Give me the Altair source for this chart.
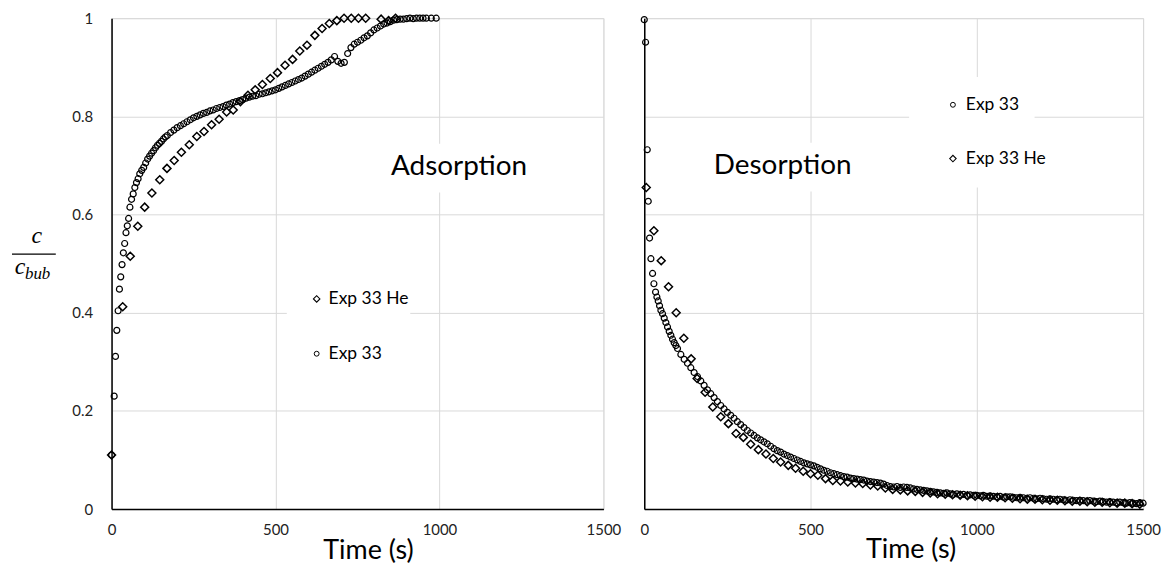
import altair as alt
import pandas as pd

# ---------------- data ----------------
ads_exp33_t = [0, 8, 12, 16, 20, 24, 28, 32, 36, 40, 44, 48, 52, 56, 61, 66, 71, 76, 81, 86,
               92, 98, 104, 110, 116, 122, 128, 134, 140, 146, 152, 158, 164, 170, 180, 190, 200,
               210, 220, 230, 240, 250, 260, 270, 280, 290, 300, 310, 320, 330, 340, 350, 360,
               370, 380, 390, 400, 410, 420, 430, 440, 450, 460, 470, 480, 490, 500, 510, 520,
               530, 540, 550, 560, 570, 580, 590, 600, 610, 620, 630, 640, 650, 660, 670, 680,
               690, 700, 710, 720, 730, 740, 750, 760, 770, 780, 790, 800, 810, 820, 830, 840,
               850, 860, 870, 880, 890, 900, 910, 920, 930, 940, 950, 960, 975, 990]
ads_exp33_c = [0.110, 0.230, 0.311, 0.364, 0.404, 0.448, 0.473, 0.498, 0.522, 0.541, 0.563, 0.577,
               0.592, 0.615, 0.631, 0.642, 0.655, 0.665, 0.673, 0.683, 0.690, 0.696, 0.705, 0.713,
               0.719, 0.725, 0.730, 0.736, 0.741, 0.745, 0.749, 0.754, 0.758, 0.761, 0.767, 0.772,
               0.777, 0.781, 0.785, 0.789, 0.793, 0.797, 0.800, 0.803, 0.806, 0.808, 0.811, 0.813,
               0.816, 0.818, 0.820, 0.823, 0.825, 0.828, 0.830, 0.832, 0.834, 0.837, 0.839, 0.841,
               0.842, 0.845, 0.846, 0.848, 0.850, 0.852, 0.854, 0.857, 0.860, 0.863, 0.866, 0.869,
               0.872, 0.875, 0.878, 0.882, 0.886, 0.890, 0.894, 0.898, 0.902, 0.906, 0.910, 0.915,
               0.922, 0.912, 0.908, 0.910, 0.928, 0.940, 0.947, 0.951, 0.955, 0.960, 0.964, 0.970,
               0.976, 0.980, 0.984, 0.988, 0.990, 0.993, 0.996, 0.997, 0.998, 0.998, 0.999, 1.000,
               0.999, 1.000, 1.000, 1.000, 1.000, 1.000, 1.000]

ads_he_t = [0, 34, 57, 80, 101, 123, 147, 169, 191, 213, 237, 260, 282, 305, 328, 351, 371, 393,
            416, 438, 460, 484, 506, 529, 552, 574, 596, 620, 642, 664, 687, 709, 731, 753, 775,
            822, 845, 866]
ads_he_c = [0.110, 0.412, 0.515, 0.576, 0.615, 0.644, 0.671, 0.694, 0.710, 0.727, 0.742, 0.759,
            0.769, 0.783, 0.794, 0.809, 0.813, 0.830, 0.843, 0.854, 0.865, 0.877, 0.889, 0.904,
            0.916, 0.933, 0.945, 0.965, 0.979, 0.989, 0.995, 1.000, 1.000, 1.000, 1.000, 0.998,
            0.995, 1.000]

des_exp33_t = [0, 4, 9, 12, 16, 20, 25, 29, 34, 38, 42, 46, 50, 55, 60, 65, 70, 75, 80, 85, 90,
               95, 100, 110, 120, 130, 140, 150, 160, 170, 180, 190, 200, 210, 220, 230, 240, 250,
               260, 270, 280, 290, 300, 310, 320, 330, 340, 350, 360, 370, 380, 390, 400, 410,
               420, 430, 440, 450, 460, 470, 480, 490, 500, 510, 520, 530, 540, 550, 560, 570,
               580, 590, 600, 610, 620, 630, 640, 650, 660, 670, 680, 690, 700, 710, 720, 730,
               740, 750, 760, 770, 780, 790, 800, 810, 820, 830, 840, 850, 860, 870, 880, 890,
               900, 910, 920, 930, 940, 950, 960, 970, 980, 990, 1000, 1010, 1020, 1030, 1040,
               1050, 1060, 1070, 1080, 1090, 1100, 1110, 1120, 1130, 1140, 1150, 1160, 1170,
               1180, 1190, 1200, 1210, 1220, 1230, 1240, 1250, 1260, 1270, 1280, 1290, 1300,
               1310, 1320, 1330, 1340, 1350, 1360, 1370, 1380, 1390, 1400, 1410, 1420, 1430,
               1440, 1450, 1460, 1470, 1480, 1490, 1500]
des_exp33_c = [0.997, 0.951, 0.732, 0.627, 0.552, 0.510, 0.480, 0.459, 0.442, 0.432, 0.424, 0.414,
               0.405, 0.398, 0.389, 0.380, 0.371, 0.362, 0.354, 0.346, 0.339, 0.333, 0.327, 0.315,
               0.305, 0.297, 0.288, 0.278, 0.270, 0.261, 0.252, 0.243, 0.235, 0.227, 0.219, 0.211,
               0.204, 0.197, 0.191, 0.185, 0.178, 0.172, 0.166, 0.160, 0.155, 0.150, 0.145, 0.141,
               0.137, 0.133, 0.128, 0.123, 0.119, 0.116, 0.112, 0.109, 0.106, 0.103, 0.100, 0.097,
               0.094, 0.092, 0.090, 0.088, 0.085, 0.082, 0.079, 0.077, 0.074, 0.072, 0.070, 0.068,
               0.066, 0.065, 0.063, 0.062, 0.061, 0.060, 0.059, 0.057, 0.056, 0.055, 0.054, 0.053,
               0.051, 0.048, 0.046, 0.045, 0.046, 0.044, 0.045, 0.044, 0.043, 0.041, 0.040, 0.039,
               0.038, 0.037, 0.036, 0.035, 0.034, 0.033, 0.032, 0.033, 0.031, 0.030, 0.031, 0.029,
               0.030, 0.028, 0.029, 0.028, 0.028, 0.027, 0.028, 0.026, 0.027, 0.026, 0.025, 0.026,
               0.024, 0.025, 0.025, 0.024, 0.023, 0.024, 0.023, 0.022, 0.023, 0.022, 0.021, 0.022,
               0.021, 0.020, 0.021, 0.020, 0.019, 0.020, 0.019, 0.018, 0.019, 0.018, 0.017, 0.018,
               0.017, 0.016, 0.017, 0.016, 0.015, 0.016, 0.015, 0.014, 0.015, 0.014, 0.013, 0.014,
               0.013, 0.012, 0.013, 0.012, 0.011, 0.013, 0.012]

des_he_t = [6, 29, 51, 73, 96, 119, 141, 159, 183, 206, 230, 253, 276, 298, 320, 343, 366, 388,
            410, 433, 455, 478, 500, 522, 545, 567, 590, 612, 635, 657, 680, 702, 725, 747, 770,
            792, 815, 837, 860, 882, 905, 927, 950, 972, 995, 1017, 1040, 1062, 1085, 1107,
            1130, 1152, 1175, 1197, 1220, 1242, 1265, 1287, 1310, 1332, 1355, 1377, 1400, 1422,
            1445, 1467, 1490]
des_he_c = [0.655, 0.567, 0.506, 0.453, 0.400, 0.348, 0.306, 0.266, 0.238, 0.208, 0.188, 0.174,
            0.154, 0.146, 0.132, 0.121, 0.112, 0.103, 0.096, 0.089, 0.083, 0.077, 0.072, 0.069,
            0.062, 0.058, 0.057, 0.055, 0.053, 0.052, 0.049, 0.047, 0.043, 0.040, 0.039, 0.037,
            0.036, 0.034, 0.033, 0.031, 0.030, 0.029, 0.028, 0.027, 0.026, 0.025, 0.024, 0.024,
            0.023, 0.022, 0.021, 0.020, 0.020, 0.019, 0.018, 0.018, 0.017, 0.016, 0.016, 0.015,
            0.014, 0.014, 0.013, 0.012, 0.012, 0.011, 0.010]

x_ticks = [0, 500, 1000, 1500]
y_ticks = [0, 0.2, 0.4, 0.6, 0.8, 1.0]

FONT = "Lato"
GRID = "#d9d9d9"
LW, RW, H = 494, 501, 493

ads_c_df = pd.DataFrame({"t": ads_exp33_t, "c": ads_exp33_c})
ads_h_df = pd.DataFrame({"t": ads_he_t, "c": ads_he_c})
des_c_df = pd.DataFrame({"t": des_exp33_t, "c": des_exp33_c})
des_h_df = pd.DataFrame({"t": des_he_t, "c": des_he_c})

one = alt.Data(values=[{"k": 0}])


def xenc():
    return alt.X("t:Q", scale=alt.Scale(domain=[0, 1500], nice=False),
                 axis=alt.Axis(values=x_ticks, format="d", title=None, grid=True,
                               gridColor=GRID, gridWidth=1, ticks=False,
                               domainColor="black", domainWidth=1.5,
                               labelFont=FONT, labelFontSize=15, labelColor="#222",
                               labelPadding=14, labelFlush=False))


def yenc(labels):
    return alt.Y("c:Q", scale=alt.Scale(domain=[0, 1], nice=False),
                 axis=alt.Axis(values=y_ticks, format="~g", title=None, grid=True,
                               gridColor=GRID, gridWidth=1, ticks=False,
                               domainColor="black", domainWidth=1.5,
                               labels=labels, labelFont=FONT, labelFontSize=15,
                               labelColor="#222", labelPadding=19, labelFlush=False))


def circles(df, labels):
    return alt.Chart(df).mark_point(shape="circle", size=36, filled=False, color="black",
                                    strokeWidth=1.2, opacity=1).encode(x=xenc(), y=yenc(labels))


def diamonds(df, labels):
    return alt.Chart(df).mark_point(shape="diamond", size=64, filled=False, color="black",
                                    strokeWidth=1.5, opacity=1).encode(x=xenc(), y=yenc(labels))


def box(x1, x2, y1, y2):
    return alt.Chart(one).mark_rect(color="white").encode(
        x=alt.value(x1), x2=alt.value(x2), y=alt.value(y1), y2=alt.value(y2))


def txt(s, x, y, size, align="left", **kw):
    return alt.Chart(one).mark_text(text=s, font=FONT, fontSize=size, align=align,
                                    baseline="middle", color="black", **kw).encode(
        x=alt.value(x), y=alt.value(y))


def sym(shape, x, y, size, sw):
    return alt.Chart(one).mark_point(shape=shape, size=size, filled=False, color="black",
                                     strokeWidth=sw, opacity=1).encode(
        x=alt.value(x), y=alt.value(y))


# ---------------- left panel: adsorption ----------------
left = alt.layer(
    box(273, 423, 126, 175),
    txt("Adsorption", 349, 150, 28, align="center"),
    box(176, 300, 254, 366),
    sym("diamond", 206, 282, 42, 1.1),
    txt("Exp 33 He", 218, 282, 17.5),
    sym("circle", 206, 337, 24, 1.0),
    txt("Exp 33", 218, 337, 17.5),
    # fraction y-label
    alt.Chart(one).mark_text(text="c", font="Liberation Serif", fontStyle="italic",
                             fontSize=24, align="center", baseline="middle").encode(
        x=alt.value(-75), y=alt.value(219)),
    alt.Chart(one).mark_rule(color="black", strokeWidth=1.2).encode(
        x=alt.value(-100), x2=alt.value(-56), y=alt.value(237)),
    alt.Chart(one).mark_text(text="c", font="Liberation Serif", fontStyle="italic",
                             fontSize=24, align="center", baseline="middle").encode(
        x=alt.value(-92), y=alt.value(250)),
    alt.Chart(one).mark_text(text="bub", font="Liberation Serif", fontStyle="italic",
                             fontSize=17, align="left", baseline="middle").encode(
        x=alt.value(-87), y=alt.value(257)),
    txt("Time (s)", 258, 535, 27, align="center"),
    diamonds(ads_h_df, True),
    circles(ads_c_df, True),
).properties(width=LW, height=H)

# ---------------- right panel: desorption ----------------
right = alt.layer(
    box(61, 218, 125, 174),
    txt("Desorption", 139, 149, 28, align="center"),
    box(266, 392, 59, 170),
    sym("circle", 310, 87, 24, 1.0),
    txt("Exp 33", 323, 87, 17.5),
    sym("diamond", 310, 141, 42, 1.1),
    txt("Exp 33 He", 323, 141, 17.5),
    txt("Time (s)", 268, 534, 27, align="center"),
    diamonds(des_h_df, False),
    circles(des_c_df, False),
).properties(width=RW, height=H)

chart = alt.hconcat(left, right, spacing=17).properties(
    padding={"left": 2, "top": 1, "right": 5, "bottom": 5}
).configure_view(strokeWidth=0).configure(background="white")

chart.save("out.html", embed_options={"renderer": "svg", "actions": False})
